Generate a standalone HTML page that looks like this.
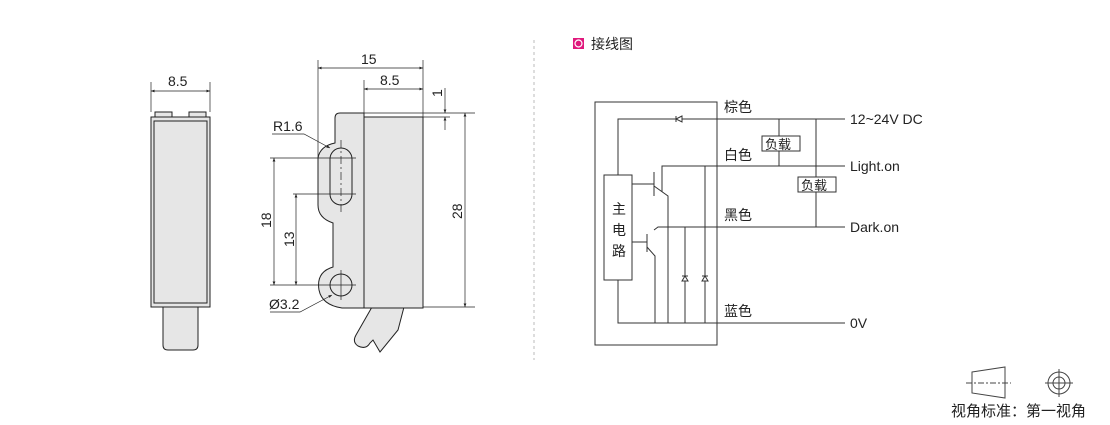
<!DOCTYPE html>
<html><head><meta charset="utf-8"><style>
body{margin:0;background:#fff;width:1110px;height:425px;overflow:hidden}
svg{display:block}
text{font-family:"Liberation Sans","Noto Sans CJK SC",sans-serif;fill:#222}
</style></head><body>
<svg width="1110" height="425" viewBox="0 0 1110 425" xmlns="http://www.w3.org/2000/svg">
<defs><marker id="a" viewBox="0 0 10 10" refX="10" refY="5" markerWidth="8" markerHeight="5" orient="auto-start-reverse"><path d="M0,1L10,5L0,9z" fill="#222"/></marker></defs>
<g stroke="#222" stroke-width="1" fill="none">
<!-- left view -->
<rect x="155" y="112" width="17" height="6" fill="#e6e6e6"/>
<rect x="189" y="112" width="17" height="6" fill="#e6e6e6"/>
<path d="M163,307 L163,345 Q163,350 168,350 L193,350 Q198,350 198,345 L198,307" fill="#e6e6e6"/>
<rect x="151" y="117" width="59" height="190" fill="#e6e6e6"/>
<rect x="154" y="121" width="53" height="182" fill="#e6e6e6"/>
<line x1="151" y1="82" x2="151" y2="112" stroke-width="0.7"/>
<line x1="210" y1="82" x2="210" y2="112" stroke-width="0.7"/>
<line x1="151" y1="91" x2="210" y2="91" marker-start="url(#a)" marker-end="url(#a)" stroke-width="0.7"/>
<!-- side view -->
<path d="M372,307 L356,335 Q352,342 358,346 Q366,350 370,343 L373,340 L380,352 L398,330 L404,307" fill="#e6e6e6"/>
<path d="M340,113 L364,113 L364,308 L342,308 Q322,305 319,290 Q316,272 333,267 L333,223 Q318,218 318,205 L318,158 Q320,146 335,143 L335,118 Q335,113 340,113 Z" fill="#e6e6e6"/>
<rect x="364" y="117" width="59" height="191" fill="#e6e6e6"/>
<line x1="364" y1="113" x2="364" y2="117"/>
<rect x="330" y="148" width="22" height="57" rx="11" fill="#e6e6e6"/>
<circle cx="341" cy="285" r="11" fill="#e6e6e6"/>
<g stroke-width="0.7">
<line x1="341" y1="140" x2="341" y2="212" stroke-dasharray="8,3,2,3"/>
<line x1="341" y1="270" x2="341" y2="300"/>
<line x1="270" y1="158" x2="356" y2="158"/>
<line x1="293" y1="194" x2="356" y2="194"/>
<line x1="270" y1="285" x2="356" y2="285"/>
<line x1="318" y1="60" x2="318" y2="158"/>
<line x1="364" y1="80" x2="364" y2="113"/>
<line x1="423" y1="60" x2="423" y2="117"/>
<line x1="318" y1="68" x2="423" y2="68" marker-start="url(#a)" marker-end="url(#a)"/>
<line x1="364" y1="89" x2="423" y2="89" marker-start="url(#a)" marker-end="url(#a)"/>
<line x1="364" y1="113" x2="475" y2="113"/>
<line x1="423" y1="117" x2="450" y2="117"/>
<line x1="423" y1="307" x2="475" y2="307"/>
<line x1="465" y1="113" x2="465" y2="307" marker-start="url(#a)" marker-end="url(#a)"/>
<line x1="445" y1="88" x2="445" y2="113" marker-end="url(#a)"/>
<line x1="445" y1="130" x2="445" y2="117" marker-end="url(#a)"/>
<line x1="274" y1="158" x2="274" y2="285" marker-start="url(#a)" marker-end="url(#a)"/>
<line x1="296" y1="194" x2="296" y2="285" marker-start="url(#a)" marker-end="url(#a)"/>
<polyline points="272,134 304,134 330,148" marker-end="url(#a)"/>
<polyline points="270,312 300,312 332,295" marker-end="url(#a)"/>
</g>
</g>
<g font-size="14">
<text x="168" y="86">8.5</text>
<text x="361" y="64">15</text>
<text x="380" y="85">8.5</text>
<text x="273" y="131">R1.6</text>
<text x="269" y="309">Ø3.2</text>
<text transform="translate(442,97) rotate(-90)">1</text>
<text transform="translate(462,219) rotate(-90)">28</text>
<text transform="translate(271,228) rotate(-90)">18</text>
<text transform="translate(294,247) rotate(-90)">13</text>
</g>
<line x1="534" y1="40" x2="534" y2="360" stroke="#bbb" stroke-dasharray="3,3"/>
<!-- wiring -->
<rect x="573" y="38" width="11" height="11" fill="#e0197d"/>
<circle cx="578.5" cy="43.5" r="3.5" fill="none" stroke="#fff" stroke-width="1.2"/>
<text x="591" y="49" font-size="14">接线图</text>
<g stroke="#333" stroke-width="1" fill="none">
<rect x="595" y="102" width="122" height="243"/>
<polyline points="618,175 618,119 845,119"/>
<path d="M676,116 L676,122 M682,116 L676,119 L682,122 Z" fill="#fff"/>
<rect x="604" y="175" width="28" height="105" fill="#fff"/>
<polyline points="618,280 618,323 845,323"/>
<polyline points="662,192 662,166 845,166"/>
<polyline points="632,184 654,184"/><line x1="654" y1="172" x2="654" y2="196"/>
<polyline points="654,186 668,196 668,323"/>
<polyline points="654,230 658,227 845,227"/>
<polyline points="632,242 647,242"/><line x1="647" y1="234" x2="647" y2="252"/>
<polyline points="647,247 655,256 655,323"/>
<line x1="685" y1="227" x2="685" y2="323"/>
<line x1="705" y1="166" x2="705" y2="323"/>
<path d="M682,281 L688,281 L685,276 Z M682,276 L688,276" fill="#fff"/>
<path d="M702,281 L708,281 L705,276 Z M702,276 L708,276" fill="#fff"/>
<line x1="779" y1="119" x2="779" y2="166"/>
<line x1="816" y1="119" x2="816" y2="227"/>
<rect x="762" y="136" width="38" height="15" fill="#fff"/>
<rect x="798" y="177" width="38" height="15" fill="#fff"/>
</g>
<g font-size="14">
<text x="724" y="112">棕色</text>
<text x="724" y="160">白色</text>
<text x="724" y="220">黑色</text>
<text x="724" y="316">蓝色</text>
<text x="765" y="149" font-size="13">负载</text>
<text x="801" y="190" font-size="13">负载</text>
<text x="612" y="214">主</text>
<text x="612" y="235">电</text>
<text x="612" y="256">路</text>
<text x="850" y="124">12~24V DC</text>
<text x="850" y="171">Light.on</text>
<text x="850" y="232">Dark.on</text>
<text x="850" y="328">0V</text>
</g>
<g stroke="#444" stroke-width="1" fill="none">
<path d="M972,372 L1005,367 L1005,398 L972,393 Z"/>
<line x1="966" y1="383" x2="1011" y2="383" stroke-dasharray="6,2,2,2"/>
<circle cx="1059" cy="383" r="11"/><circle cx="1059" cy="383" r="6"/>
<line x1="1045" y1="383" x2="1073" y2="383"/><line x1="1059" y1="369" x2="1059" y2="397"/>
</g>
<text x="951" y="416" font-size="15">视角标准：第一视角</text>
</svg>
</body></html>
